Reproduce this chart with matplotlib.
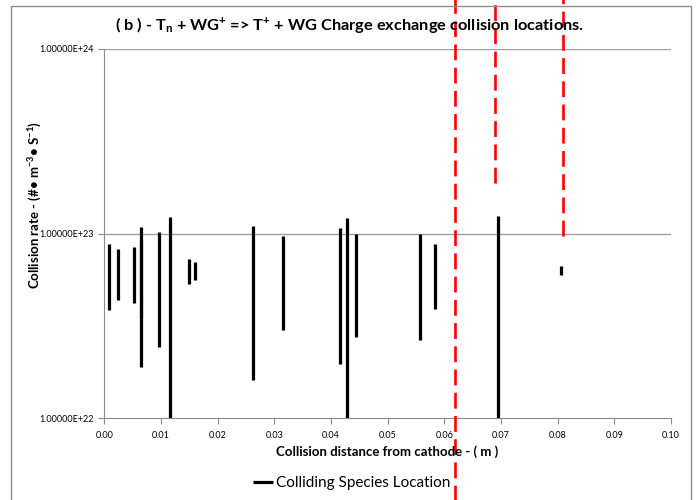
import math
import matplotlib
matplotlib.use("Agg")
import matplotlib.pyplot as plt
from matplotlib.patches import Rectangle
from matplotlib.ticker import FuncFormatter, FixedLocator

plt.rcParams['font.family'] = ['Lato', 'DejaVu Sans']
plt.rcParams['mathtext.fontset'] = 'custom'
plt.rcParams['mathtext.rm'] = 'Lato:bold'
plt.rcParams['mathtext.bf'] = 'Lato:bold'
plt.rcParams['mathtext.it'] = 'Lato:bold'

# collision locations (m) and rate ranges (#/m3/s)
loc_x = [0.00083, 0.00236, 0.00524, 0.00653, 0.00642, 0.00971, 0.01159,
         0.0150, 0.0160, 0.0263, 0.0316, 0.04165, 0.04283, 0.04442,
         0.05576, 0.0584, 0.0694, 0.0806]
rate_lo = [3.85e22, 4.38e22, 4.19e22, 3.49e22, 1.90e22, 2.44e22, 9.0e21,
           5.31e22, 5.61e22, 1.61e22, 3.00e22, 1.96e22, 9.0e21, 2.76e22,
           2.67e22, 3.90e22, 9.0e21, 5.94e22]
rate_hi = [8.82e22, 8.22e22, 8.49e22, 1.08e23, 9.23e22, 1.02e23, 1.23e23,
           7.31e22, 6.99e22, 1.10e23, 9.67e22, 1.07e23, 1.21e23, 9.95e22,
           9.95e22, 8.75e22, 1.25e23, 6.65e22]

# red dashed boundary markers: x position, and vertical span (axes fraction)
red_x = [0.0619, 0.0690, 0.0809]
red_bot = [-0.23, 0.637, 0.494]
red_top = [1.14, 1.14, 1.14]

xticks = [0.00, 0.01, 0.02, 0.03, 0.04, 0.05, 0.06, 0.07, 0.08, 0.09, 0.10]
yticks = [1e22, 1e23, 1e24]

fig = plt.figure(figsize=(6.99, 5.0), dpi=100)
ax = fig.add_axes([104.3 / 699, 81.7 / 500, (671 - 104.3) / 699, (418.3 - 49) / 500])

# outer chart border
fig.patches.append(Rectangle((11 / 699, -0.05), 680 / 699, 1.05 - 6 / 500,
                             transform=fig.transFigure, fill=False,
                             edgecolor='#8c8c8c', lw=1.0))

ax.set_yscale('log')
ax.set_xlim(0, 0.10)
ax.set_ylim(1e22, 1e24)

for y in yticks[1:]:
    ax.axhline(y, color='#a0a0a0', lw=1.0, zorder=0)

ax.vlines(loc_x, rate_lo, rate_hi, color='black', lw=2.3,
          label='Colliding Species Location', zorder=3)

for x, b, t in zip(red_x, red_bot, red_top):
    ax.axvline(x, ymin=b, ymax=t, color='#ff0000', lw=1.9,
               dashes=(6, 2.8), clip_on=False, zorder=4)

for s in ['top', 'right']:
    ax.spines[s].set_visible(False)
for s in ['left', 'bottom']:
    ax.spines[s].set_color('#8c8c8c')

ax.xaxis.set_major_locator(FixedLocator(xticks))
ax.xaxis.set_major_formatter(FuncFormatter(lambda v, p: '%.2f' % v))
ax.yaxis.set_major_locator(FixedLocator(yticks))
ax.yaxis.set_minor_locator(FixedLocator([]))
ax.yaxis.set_major_formatter(FuncFormatter(lambda v, p: '1.00000E+%d' % round(math.log10(v))))
ax.tick_params(axis='both', colors='#8c8c8c', labelcolor='black',
               labelsize=6.5, length=4, width=0.8, direction='out')
ax.tick_params(axis='x', pad=5)

fig.text(350 / 699, 1 - 25 / 500,
         r'( b ) - T$_{\mathrm{n}}$ + WG$^{\mathrm{+}}$ => T$^{\mathrm{+}}$ + WG Charge exchange collision locations.',
         ha='center', va='center', fontsize=11.8, fontweight='bold')
fig.text(387 / 699, 1 - 452 / 500, 'Collision distance from cathode - ( m )',
         ha='center', va='center', fontsize=9.5, fontweight='bold')
fig.text(35 / 699, 1 - 205 / 500,
         r'Collision rate - (#• m$^{\mathrm{-3}}$• S$^{\mathrm{-1}}$)',
         ha='center', va='center', rotation=90, fontsize=9.5, fontweight='bold')

fig.legend(loc='center', bbox_to_anchor=(352 / 699, 1 - 483 / 500),
           frameon=False, fontsize=11, handlelength=1.3, handletextpad=0.2)

fig.savefig('out.png', dpi=100)
